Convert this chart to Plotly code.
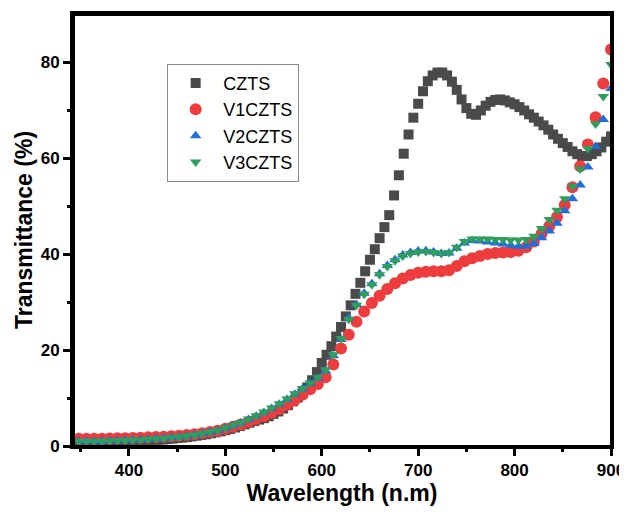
import plotly.graph_objects as go

# ---------------- data ----------------
WL_CZTS = list(range(345, 901, 5))
T_CZTS = [0.8, 0.8, 0.8, 0.8, 0.8, 0.85, 0.85, 0.9, 0.9, 0.95,
          1.0, 1.0, 1.05, 1.1, 1.15, 1.2, 1.25, 1.3, 1.35, 1.45,
          1.55, 1.65, 1.75, 1.85, 2.0, 2.15, 2.3, 2.45, 2.65, 2.85,
          3.05, 3.3, 3.55, 3.85, 4.15, 4.5, 4.85, 5.2, 5.5, 5.8,
          6.2, 6.7, 7.2, 7.8, 8.5, 9.3, 10.1, 11.0, 12.2, 13.7,
          15.4, 17.3, 19.0, 20.8, 22.8, 24.8, 27.0, 29.3, 31.7, 34.0,
          36.4, 38.8, 41.0, 43.3, 45.6, 48.1, 52.2, 56.4, 60.9, 64.9,
          68.4, 71.3, 73.9, 76.0, 77.2, 77.8, 77.8, 77.2, 75.9, 74.2,
          72.2, 70.4, 69.2, 69.0, 69.9, 70.9, 71.7, 72.1, 72.2, 72.0,
          71.6, 71.2, 70.6, 69.9, 69.1, 68.4, 67.6, 66.8, 65.9, 64.9,
          64.0, 63.1, 62.3, 61.4, 60.8, 60.4, 60.4, 60.8, 61.4, 62.2,
          63.4, 64.5]

WL_V = list(range(348, 901, 8))
T_V1 = [1.5, 1.5, 1.5, 1.5, 1.55, 1.6, 1.6, 1.65, 1.7, 1.8,
        1.85, 1.95, 2.05, 2.15, 2.3, 2.45, 2.65, 2.9, 3.2, 3.6,
        4.0, 4.5, 5.0, 5.6, 6.2, 6.9, 7.7, 8.6, 9.6, 10.7,
        11.8, 12.9, 14.3, 17.0, 20.3, 23.2, 25.9, 28.0, 29.8, 31.3,
        32.7, 33.9, 34.9, 35.6, 36.1, 36.3, 36.4, 36.4, 36.6, 37.5,
        38.5, 39.1, 39.6, 40.0, 40.2, 40.3, 40.4, 40.7, 41.4, 42.6,
        44.2, 45.8, 47.7, 50.2, 53.9, 58.3, 62.8, 68.5, 75.5, 82.6]
T_V2 = [1.0, 1.0, 1.0, 1.05, 1.1, 1.15, 1.2, 1.25, 1.3, 1.4,
        1.5, 1.6, 1.75, 1.9, 2.1, 2.3, 2.55, 2.85, 3.2, 3.7,
        4.2, 4.8, 5.5, 6.2, 7.0, 7.8, 8.7, 9.7, 10.8, 11.9,
        13.0, 14.1, 15.6, 18.8, 22.2, 26.6, 29.5, 31.8, 33.8, 35.9,
        37.6, 38.8, 39.8, 40.3, 40.6, 40.7, 40.4, 40.1, 40.2, 41.2,
        42.3, 42.8, 42.7, 42.5, 42.3, 42.1, 41.8, 41.6, 41.6, 42.2,
        43.4, 44.8, 46.4, 49.0, 51.5, 54.4, 58.1, 62.4, 68.0, 74.5]
T_V3 = [1.0, 1.0, 1.0, 1.05, 1.1, 1.15, 1.2, 1.25, 1.3, 1.4,
        1.5, 1.6, 1.75, 1.9, 2.1, 2.3, 2.6, 2.9, 3.3, 3.8,
        4.3, 4.9, 5.6, 6.3, 7.1, 7.9, 8.8, 9.8, 10.9, 12.0,
        13.1, 14.3, 15.9, 19.0, 22.4, 26.4, 29.3, 31.6, 33.6, 35.7,
        37.4, 38.6, 39.6, 40.1, 40.4, 40.5, 40.3, 40.1, 40.3, 41.4,
        42.6, 43.1, 43.1, 43.1, 43.0, 43.0, 42.9, 42.9, 43.0, 43.7,
        45.3, 47.2, 49.1, 51.5, 54.1, 57.7, 62.0, 67.1, 72.8, 79.5]

X_TICKS = [400, 500, 600, 700, 800, 900]
X_MINOR = [350, 450, 550, 650, 750, 850]
Y_TICKS = [0, 20, 40, 60, 80]
Y_MINOR = [10, 30, 50, 70]

# ---------------- figure ----------------
FONT = "Liberation Sans, Arial, sans-serif"
fig = go.Figure()
fig.add_trace(go.Scatter(x=WL_CZTS, y=T_CZTS, mode="markers", name="CZTS",
                         marker=dict(symbol="square", size=10, color="#4a4a4a")))
fig.add_trace(go.Scatter(x=WL_V, y=T_V1, mode="markers", name="V1CZTS",
                         marker=dict(symbol="circle", size=12, color="#ee3b3b")))
fig.add_trace(go.Scatter(x=WL_V, y=T_V2, mode="markers", name="V2CZTS",
                         marker=dict(symbol="triangle-up", size=10, color="#1f6fd8")))
fig.add_trace(go.Scatter(x=WL_V, y=T_V3, mode="markers", name="V3CZTS",
                         marker=dict(symbol="triangle-down", size=10, color="#2e9e5b")))

axis_style = dict(showline=True, linecolor="black", linewidth=3, mirror=True,
                  ticks="outside", ticklen=7, tickwidth=3, tickcolor="black",
                  showgrid=False, zeroline=False,
                  automargin=False, ticklabeloverflow="allow",
                  tickfont=dict(family=FONT, size=17, color="black", weight="bold"))

# page body adds an 8 px margin, so the figure is drawn 8 px in from the corner
fig.update_layout(
    width=619, height=509,
    margin=dict(l=65, r=16, t=6, b=71, autoexpand=False),
    paper_bgcolor="white", plot_bgcolor="white",
    showlegend=True,
    legend=dict(x=0.175, y=0.885, xanchor="left", yanchor="top",
                bgcolor="white", bordercolor="#8a8a8a", borderwidth=1,
                font=dict(family=FONT, size=18, color="black"),
                itemsizing="trace", itemwidth=45, tracegroupgap=0),
    xaxis=dict(range=[342, 900], tickmode="array", tickvals=X_TICKS,
               title=dict(text="Wavelength (n.m)", standoff=4,
                          font=dict(family=FONT, size=23, color="black", weight="bold")),
               **axis_style),
    yaxis=dict(range=[0, 90], tickmode="array", tickvals=Y_TICKS,
               title=dict(text="Transmittance (%)", standoff=2,
                          font=dict(family=FONT, size=23, color="black", weight="bold")),
               **axis_style),
)

# frame and tick marks drawn as annotation boxes (rects), positions from the tick arrays
anns = [dict(xref="paper", yref="paper", x=0.5, y=0.5, xanchor="center",
             yanchor="middle", text=" ", showarrow=False, width=535, height=429,
             borderpad=0, borderwidth=3, bordercolor="black",
             bgcolor="rgba(0,0,0,0)")]
for v in X_TICKS + X_MINOR:
    h = 9 if v in X_TICKS else 6
    anns.append(dict(xref="x", yref="paper", x=v, y=0, xanchor="center",
                     yanchor="top", text=" ", showarrow=False, width=3, height=h,
                     borderpad=0, borderwidth=0, bgcolor="black",
                     font=dict(size=1)))
for v in Y_TICKS + Y_MINOR:
    w = 9 if v in Y_TICKS else 6
    anns.append(dict(xref="paper", yref="y", x=0, y=v, xanchor="right",
                     yanchor="middle", text=" ", showarrow=False, width=w, height=3,
                     borderpad=0, borderwidth=0, bgcolor="black",
                     font=dict(size=1)))
fig.update_layout(annotations=anns)

fig.write_html("out.html")
